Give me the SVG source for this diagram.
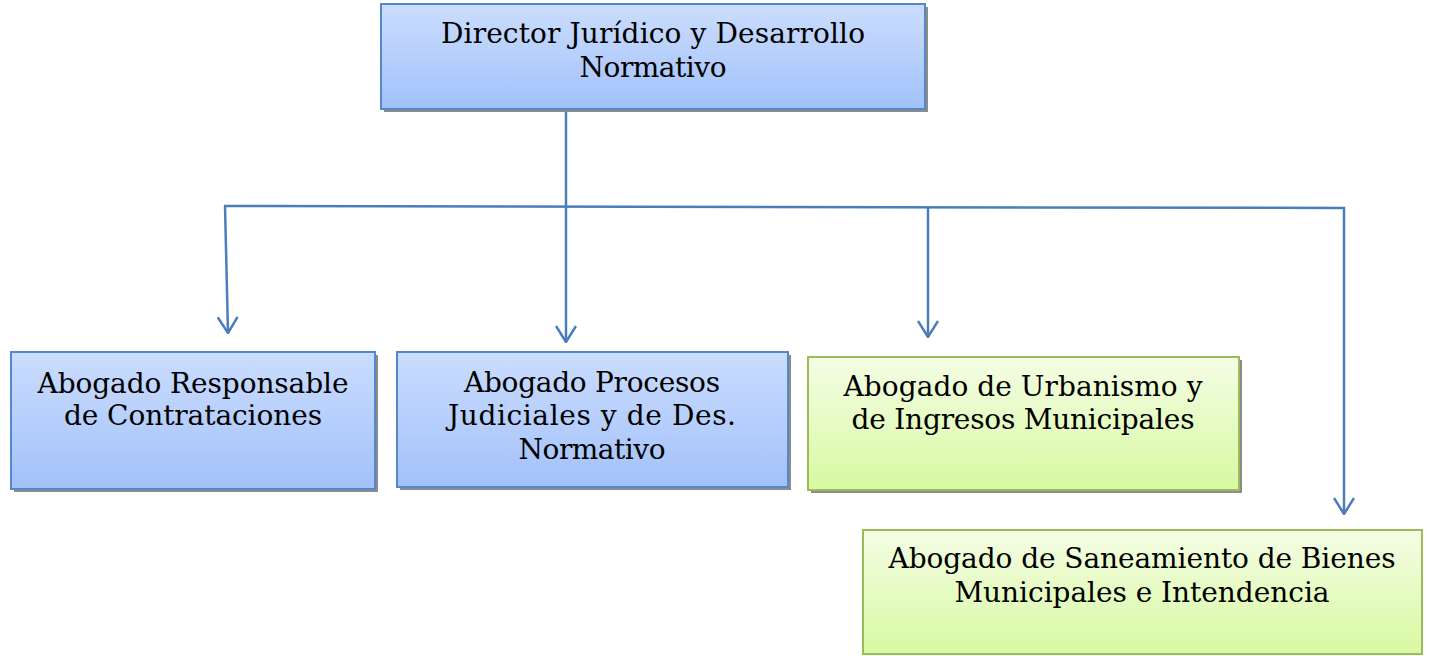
<svg xmlns="http://www.w3.org/2000/svg" width="1429" height="656" viewBox="0 0 1429 656">
<defs>
<linearGradient id="gb" x1="0" y1="0" x2="0" y2="1">
<stop offset="0" stop-color="#cbddfe"/><stop offset="1" stop-color="#a2c1fa"/>
</linearGradient>
<linearGradient id="gg" x1="0" y1="0" x2="0" y2="1">
<stop offset="0" stop-color="#f4fde4"/><stop offset="1" stop-color="#d8f9a2"/>
</linearGradient>
<marker id="arr" viewBox="0 0 18 22" refX="17" refY="11" markerWidth="18" markerHeight="22" markerUnits="userSpaceOnUse" orient="auto">
<path d="M1,1 L17,11 L1,21" fill="none" stroke="#4a7ebb" stroke-width="2.5"/>
</marker>
</defs>
<style>
.sh{fill:#8c8c8c}
.bb{fill:url(#gb);stroke:#5588c8;stroke-width:2}
.bg{fill:url(#gg);stroke:#9bbb59;stroke-width:2}
.t{font-family:"DejaVu Serif","Liberation Serif",serif;font-size:28px;fill:#000;text-anchor:middle}
.c{fill:none;stroke:#4a7ebb;stroke-width:2.5}
</style>
<rect width="1429" height="656" fill="#fff"/>
<g id="connectors">
<path class="c" d="M566,110 L566,342" marker-end="url(#arr)"/>
<path class="c" d="M224,206 L1344,208 L1344,514" marker-end="url(#arr)"/>
<path class="c" d="M225,206 L228,333" marker-end="url(#arr)"/>
<path class="c" d="M928,207 L928,337" marker-end="url(#arr)"/>
</g>
<g id="director">
<rect class="sh" x="384" y="7" width="544" height="105"/>
<rect class="bb" x="381" y="4" width="544" height="105"/>
<text class="t" x="653" y="43" textLength="424">Director Jurídico y Desarrollo</text>
<text class="t" x="653" y="77" textLength="147">Normativo</text>
</g>
<g id="contrataciones">
<rect class="sh" x="14" y="355" width="364" height="137"/>
<rect class="bb" x="11" y="352" width="364" height="137"/>
<text class="t" x="193" y="393" textLength="311">Abogado Responsable</text>
<text class="t" x="193" y="425" textLength="258">de Contrataciones</text>
</g>
<g id="procesos">
<rect class="sh" x="400" y="355" width="391" height="135"/>
<rect class="bb" x="397" y="352" width="391" height="135"/>
<text class="t" x="592" y="392" textLength="256">Abogado Procesos</text>
<text class="t" x="592" y="425" textLength="288">Judiciales y de Des.</text>
<text class="t" x="592" y="459" textLength="147">Normativo</text>
</g>
<g id="urbanismo">
<rect class="sh" x="811" y="360" width="431" height="133"/>
<rect class="bg" x="808" y="357" width="431" height="133"/>
<text class="t" x="1023" y="396" textLength="359">Abogado de Urbanismo y</text>
<text class="t" x="1023" y="429" textLength="343">de Ingresos Municipales</text>
</g>
<g id="saneamiento">
<rect class="bg" x="863" y="530" width="559" height="124"/>
<text class="t" x="1142" y="568" textLength="507">Abogado de Saneamiento de Bienes</text>
<text class="t" x="1142" y="602" textLength="375">Municipales e Intendencia</text>
</g>
</svg>
